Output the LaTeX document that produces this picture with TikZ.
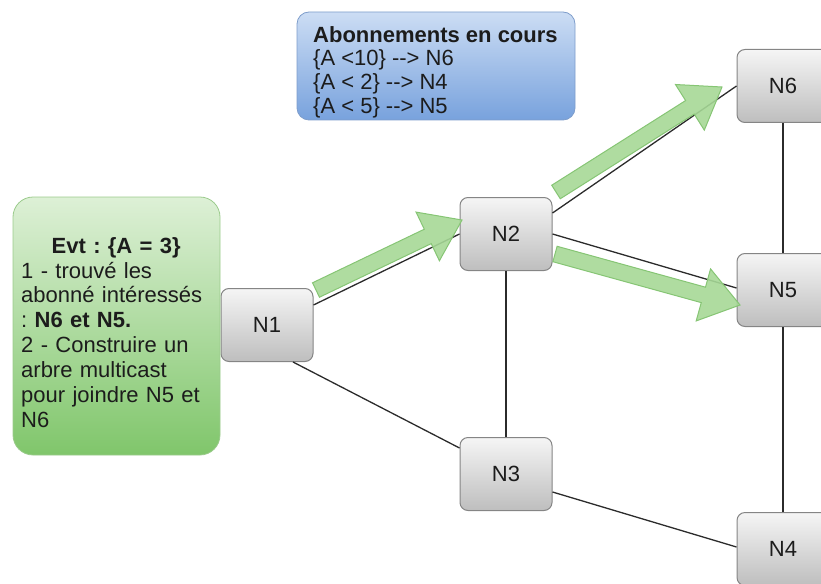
\documentclass[tikz,border=0pt]{standalone}
\usepackage{fontspec}
\setmainfont{Liberation Sans}
\usetikzlibrary{calc}
\frenchspacing

\definecolor{nodetop}{HTML}{F5F5F5}
\definecolor{nodebot}{HTML}{BEBEBE}
\definecolor{nodeline}{HTML}{858585}
\definecolor{evttop}{HTML}{DDF0D6}
\definecolor{evtbot}{HTML}{80C66B}
\definecolor{evtline}{HTML}{9BCB8C}
\definecolor{subtop}{HTML}{CCDDF4}
\definecolor{subbot}{HTML}{78A2DD}
\definecolor{subline}{HTML}{7E9DCB}
\definecolor{flowfill}{HTML}{A6D896}
\definecolor{flowline}{HTML}{86C574}
\definecolor{linkcol}{HTML}{2B2B2B}
\definecolor{txt}{HTML}{1C1C1C}

\tikzset{
  router/.style={draw=nodeline, line width=1pt, rounded corners=8pt,
    top color=nodetop, bottom color=nodebot,
    minimum width=92pt, minimum height=73pt, inner sep=0pt,
    text=txt, font=\fontsize{22}{24}\selectfont},
  evtbox/.style={draw=evtline, line width=0.8pt, rounded corners=20pt,
    top color=evttop, bottom color=evtbot,
    minimum width=207pt, minimum height=258pt, inner sep=0pt},
  subbox/.style={draw=subline, line width=0.8pt, rounded corners=12pt,
    top color=subtop, bottom color=subbot,
    minimum width=278pt, minimum height=108pt, inner sep=0pt},
  boxtext/.style={inner sep=0pt, text=txt, anchor=north west},
  link/.style={draw=linkcol, line width=1.3pt},
  flow/.style={draw=flowline, line width=1pt, fill=flowfill,
    fill opacity=0.9, line join=miter},
}

% thick flow arrow from #1 to #2
\newcommand\flowarrow[2]{%
  \coordinate (fh) at ($(#2)!38pt!(#1)$);
  \path[flow] ($(#1)!8pt!90:(#2)$) -- ($(fh)!8pt!90:(#2)$)
    -- ($(fh)!27pt!90:(#2)$) -- (#2) -- ($(fh)!27pt!-90:(#2)$)
    -- ($(fh)!8pt!-90:(#2)$) -- ($(#1)!8pt!-90:(#2)$) -- cycle;
}
% arrow made of two hyphens and a greater-than sign
\newcommand\maps{-{}-{}>}

\begin{document}
\begin{tikzpicture}[x=1pt, y=-1pt]
\useasboundingbox (0,0) rectangle (821,583);
\clip (0,0) rectangle (821,583);

% routers
\node[router] (N1) at (267,325) {N1};
\node[router] (N2) at (506,234) {N2};
\node[router] (N3) at (506,474) {N3};
\node[router] (N6) at (783,86)  {N6};
\node[router] (N5) at (783,290) {N5};
\node[router] (N4) at (783,549) {N4};

% links
\draw[link] ([yshift=20pt]N1.east) -- (N2.west);
\draw[link] ([xshift=26pt]N1.south) -- ([yshift=26pt]N3.west);
\draw[link] (N2.south) -- (N3.north);
\draw[link] ([yshift=21pt]N2.east) -- (N6.west);
\draw[link] (N2.east) -- ([yshift=2pt]N5.west);
\draw[link] (N6.south) -- (N5.north);
\draw[link] (N5.south) -- (N4.north);
\draw[link] ([yshift=-18pt]N3.east) -- ([yshift=2pt]N4.west);

% multicast tree
\coordinate (t1) at (316,290); \coordinate (h1) at (462,220);
\coordinate (t2) at (556,192); \coordinate (h2) at (722,87);
\coordinate (t3) at (555,254); \coordinate (h3) at (740,305);
\flowarrow{t1}{h1}
\flowarrow{t2}{h2}
\flowarrow{t3}{h3}

% event box
\node[evtbox] (evt) at (116.5,326) {};
\node[boxtext, text width=190pt, align=left,
  font=\fontsize{22}{24.9}\selectfont] (evttext) at (21,237)
  {{\centering\bfseries Evt : \{A = 3\}\par}
   1 - trouvé les\\
   abonné intéressés\\
   : \textbf{N6 et N5.}\\
   2 - Construire un\\
   arbre multicast\\
   pour joindre N5 et\\
   N6};

% subscriptions box
\node[subbox] (subs) at (436,66) {};
\node[boxtext, align=left, font=\fontsize{22}{23.7}\selectfont]
  (substext) at (313,26)
  {\textbf{Abonnements en cours}\\
   \{A <10\} \maps{} N6\\
   \{A < 2\} \maps{} N4\\
   \{A < 5\} \maps{} N5};
\end{tikzpicture}
\end{document}
